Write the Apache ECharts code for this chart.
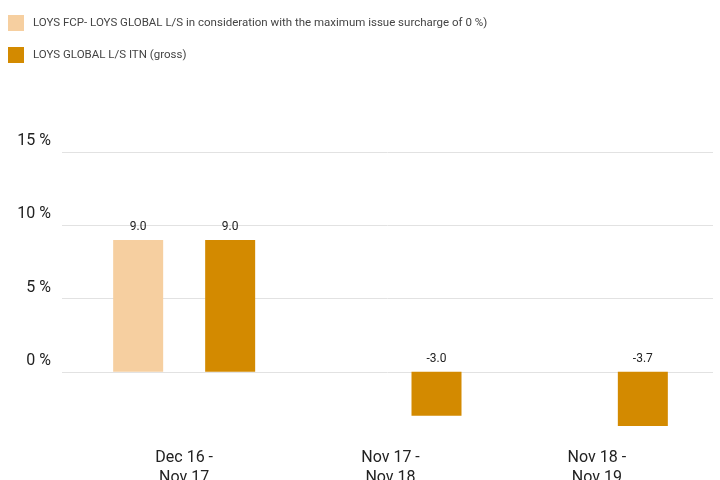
<!DOCTYPE html>
<html>
<head>
<meta charset="utf-8">
<script src="https://cdn.jsdelivr.net/npm/echarts@6/dist/echarts.min.js"></script>
<style>html,body{margin:0;padding:0;background:#fff;}#c{width:720px;height:480px;}</style>
</head>
<body>
<div id="c"></div>
<script>
var categories = ['Dec 16 -\nNov 17', 'Nov 17 -\nNov 18', 'Nov 18 -\nNov 19'];
var seriesNames = ['LOYS FCP- LOYS GLOBAL L/S in consideration with the maximum issue surcharge of 0 %)', 'LOYS GLOBAL L/S ITN (gross)'];
var fcpValues = [9.0, '-', '-'];
var itnValues = [9.0, -3.0, -3.7];
var yTicks = { min: -5, max: 15, interval: 5 };

var font = 'Roboto, "Liberation Sans", sans-serif';
var chart = echarts.init(document.getElementById('c'));
var labelOpt = {
  show: true, position: 'top', distance: 7,
  fontSize: 12, color: '#222', fontFamily: font,
  formatter: function (p) { return Number(p.value).toFixed(1); }
};
chart.setOption({
  backgroundColor: '#fff',
  animation: false,
  legend: {
    orient: 'vertical', left: 8, top: 15, padding: 0,
    itemWidth: 16, itemHeight: 16, itemGap: 16,
    icon: 'rect',
    textStyle: { fontSize: 11.5, color: '#444', fontFamily: font, padding: [0, 0, 0, 4] },
    data: seriesNames
  },
  grid: [
    { left: 81, right: 20, top: 152, bottom: 35, outerBoundsMode: 'none', containLabel: false },
    { left: 62, right: 7, top: 152, bottom: 35, outerBoundsMode: 'none', containLabel: false }
  ],
  xAxis: [
    {
      type: 'category', gridIndex: 0, data: categories,
      axisLine: { show: false }, axisTick: { show: false },
      axisLabel: { margin: 3, fontSize: 16, color: '#222', fontFamily: font, lineHeight: 20 }
    },
    { type: 'category', gridIndex: 1, data: categories, show: false }
  ],
  yAxis: [
    { type: 'value', gridIndex: 0, min: yTicks.min, max: yTicks.max, interval: yTicks.interval, show: false, splitLine: { show: false } },
    {
      type: 'value', gridIndex: 1, min: yTicks.min, max: yTicks.max, interval: yTicks.interval,
      axisLine: { show: false }, axisTick: { show: false },
      axisLabel: {
        showMinLabel: false, formatter: '{value} %', margin: 11, fontSize: 16, color: '#222', fontFamily: font,
        verticalAlign: 'bottom', padding: [0, 0, 3, 0]
      },
      splitLine: { showMinLine: false, lineStyle: { color: '#e2e2e2', width: 1 } }
    }
  ],
  series: [
    {
      name: seriesNames[0], type: 'bar', xAxisIndex: 0, yAxisIndex: 0,
      data: fcpValues, barWidth: 50, barGap: '84%',
      itemStyle: { color: '#F6CFA0' }, label: labelOpt
    },
    {
      name: seriesNames[1], type: 'bar', xAxisIndex: 0, yAxisIndex: 0,
      data: itnValues, barWidth: 50, barGap: '84%',
      itemStyle: { color: '#D38A00' }, label: labelOpt
    }
  ]
});
</script>
</body>
</html>
